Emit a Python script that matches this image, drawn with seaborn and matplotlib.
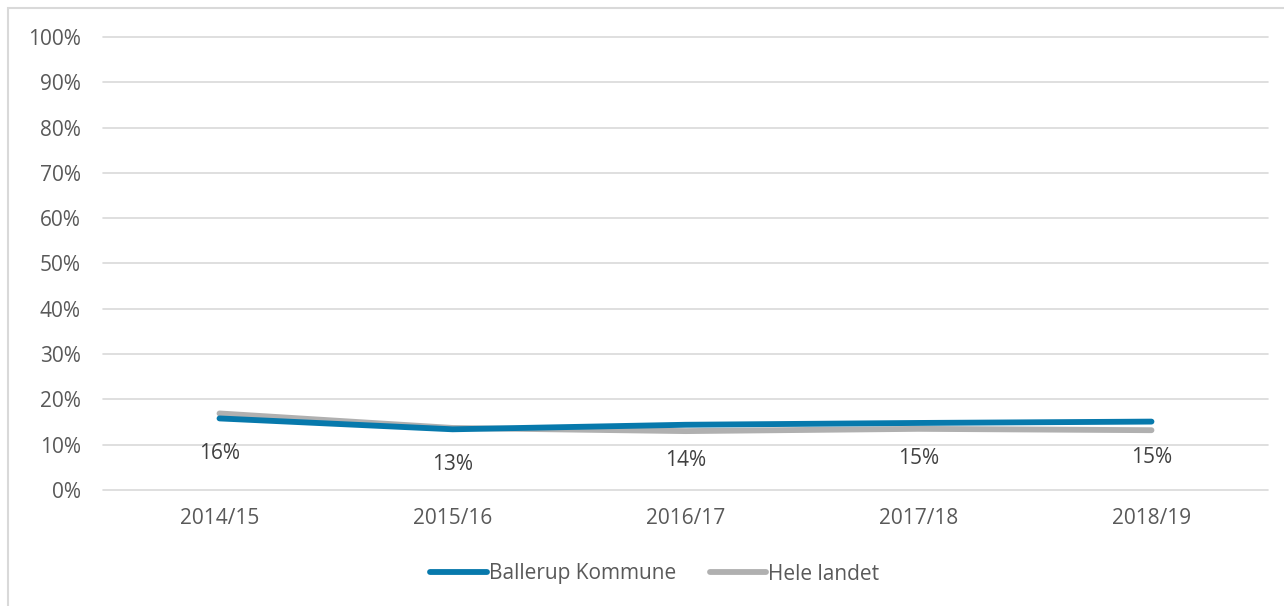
import matplotlib
matplotlib.use("Agg")
import matplotlib.pyplot as plt
import matplotlib.patches as mpatches
import matplotlib.ticker as mticker
import seaborn as sns
import pandas as pd

# Data
years = ["2014/15", "2015/16", "2016/17", "2017/18", "2018/19"]
ballerup = [0.158, 0.134, 0.144, 0.148, 0.151]
hele_landet = [0.169, 0.137, 0.130, 0.135, 0.132]
series_names = ["Ballerup Kommune", "Hele landet"]
colors = ["#0779AC", "#B0B0B0"]

df = pd.DataFrame({
    "pos": list(range(len(years))) * 2,
    "value": ballerup + hele_landet,
    "serie": [series_names[0]] * len(years) + [series_names[1]] * len(years),
})

sns.set_style("white")
plt.rcParams["font.family"] = ["Open Sans", "DejaVu Sans"]

W, H, DPI = 1284, 606, 100
fig = plt.figure(figsize=(W / DPI, H / DPI), dpi=DPI)

# Light frame around the chart area
frame = mpatches.Rectangle((8 / W, -0.05), 1.1, 1 - 8 / H + 0.05, transform=fig.transFigure,
                           fill=False, edgecolor="#D9D9D9", linewidth=1.5)
fig.patches.append(frame)

ax = fig.add_axes([103 / W, 1 - 490 / H, (1268 - 103) / W, (490 - 37) / H])

sns.lineplot(data=df, x="pos", y="value", hue="serie", palette=colors,
             hue_order=series_names, linewidth=4.2, ax=ax, legend=False,
             solid_capstyle="round", zorder=3)
# Ballerup on top of Hele landet
ax.lines[0].set_zorder(4)

# Data labels below Ballerup points
for i, v in enumerate(ballerup):
    ax.annotate(f"{v * 100:.0f}%", (i, v), textcoords="offset points", xytext=(0, -25.5),
                ha="center", va="center", fontsize=15, color="#404040")

ax.set_xlim(-0.5, len(years) - 0.5)
ax.set_ylim(0, 1)
ax.set_xticks(range(len(years)))
ax.set_xticklabels(years)
ax.yaxis.set_major_locator(mticker.MultipleLocator(0.1))
ax.yaxis.set_major_formatter(mticker.FuncFormatter(lambda y, _: f"{y * 100:.0f}%"))
ax.grid(axis="y", color="#D9D9D9", linewidth=1.2)
ax.grid(axis="x", visible=False)
for gl in ax.get_ygridlines():
    gl.set_clip_on(False)
for s in ax.spines.values():
    s.set_visible(False)
ax.tick_params(axis="x", length=0, pad=13, labelsize=15, labelcolor="#595959")
ax.tick_params(axis="y", length=0, pad=16, labelsize=15, labelcolor="#595959")
ax.set_xlabel("")
ax.set_ylabel("")

handles = [plt.Line2D([], [], color=c, linewidth=4.2, solid_capstyle="round") for c in colors]
fig.legend(handles, series_names, loc="center", bbox_to_anchor=(655 / W, 1 - 574 / H), ncol=2,
           frameon=False, fontsize=15, handlelength=2.7, handletextpad=0.12,
           columnspacing=1.6, labelcolor="#595959")

fig.savefig("out.png", dpi=DPI)
